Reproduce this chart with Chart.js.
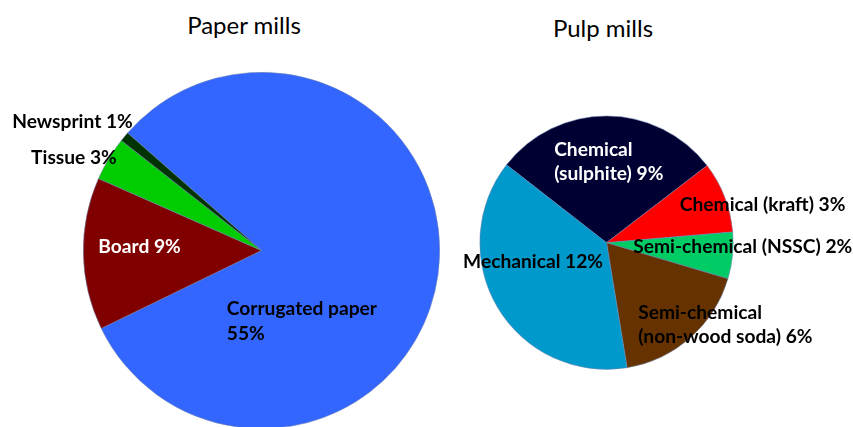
<!DOCTYPE html>
<html>
<head>
<meta charset="utf-8">
<script src="https://cdn.jsdelivr.net/npm/chart.js@4/dist/chart.umd.min.js"></script>
<style>
  html, body { margin: 0; padding: 0; background: #fff; overflow: hidden; }
  body { width: 853px; height: 427px; position: relative; }
  .box { position: absolute; }
  .title { position: absolute; font-family: Lato, "Open Sans", sans-serif; font-size: 24px; color: #000; transform: translateX(-50%); white-space: nowrap; }
</style>
</head>
<body>
<div class="title" style="left:244px; top:10px;">Paper mills</div>
<div class="title" style="left:603px; top:13px;">Pulp mills</div>
<div class="box" style="left:0; top:0; width:440px; height:440px;"><canvas id="paper"></canvas></div>
<div class="box" style="left:440px; top:0; width:413px; height:427px;"><canvas id="pulp"></canvas></div>
<script>
// share of total production, %
const paperLabels = ['Corrugated paper', 'Board', 'Tissue', 'Newsprint'];
const paperValues = [55.3, 9.4, 2.7, 0.6];
const paperColors = ['#3366FF', '#800000', '#00CC00', '#003300'];

const pulpLabels = ['Chemical (sulphite)', 'Chemical (kraft)', 'Semi-chemical (NSSC)', 'Semi-chemical (non-wood soda)', 'Mechanical'];
const pulpValues = [9.3, 2.9, 1.9, 5.7, 12.2];
const pulpColors = ['#000033', '#FF0000', '#00CC66', '#663300', '#0099CC'];

// label text per slice; dx/dy in units of pie radius from the pie centre
const paperText = [
  { lines: ['Corrugated paper', '55%'], dx: -0.195, dy: 0.329, color: '#000' },
  { lines: ['Board 9%'], dx: -0.916, dy: -0.021, color: '#fff' },
  { lines: ['Tissue 3%'], dx: -1.293, dy: -0.518, color: '#000' },
  { lines: ['Newsprint 1%'], dx: -1.399, dy: -0.722, color: '#000' },
];
const pulpText = [
  { lines: ['Chemical', '(sulphite) 9%'], dx: -0.413, dy: -0.735, color: '#fff' },
  { lines: ['Chemical (kraft) 3%'], dx: 0.579, dy: -0.297, color: '#000' },
  { lines: ['Semi-chemical (NSSC) 2%'], dx: 0.211, dy: 0.031, color: '#000' },
  { lines: ['Semi-chemical', '(non-wood soda) 6%'], dx: 0.250, dy: 0.551, color: '#000' },
  { lines: ['Mechanical 12%'], dx: -1.132, dy: 0.154, color: '#000' },
];

const sliceLabels = {
  id: 'sliceLabels',
  afterDraw(chart, args, opts) {
    const ctx = chart.ctx;
    const arc = chart.getDatasetMeta(0).data[0];
    const r = arc.outerRadius;
    ctx.save();
    ctx.font = 'bold 19.2px Lato, "Open Sans", sans-serif';
    ctx.textAlign = 'left';
    ctx.textBaseline = 'middle';
    opts.items.forEach(item => {
      ctx.fillStyle = item.color;
      item.lines.forEach((line, i) => {
        ctx.fillText(line, arc.x + item.dx * r, arc.y + item.dy * r + i * 24.5);
      });
    });
    ctx.restore();
  }
};

function makePie(id, labels, values, colors, rotation, padding, items) {
  return new Chart(document.getElementById(id), {
    type: 'pie',
    data: {
      labels: labels,
      datasets: [{
        data: values,
        backgroundColor: colors,
        borderColor: 'rgba(110,130,175,0.9)',
        borderWidth: 0.6
      }]
    },
    options: {
      responsive: true,
      maintainAspectRatio: false,
      animation: false,
      events: [],
      rotation: rotation,
      layout: { padding: padding },
      plugins: {
        legend: { display: false },
        tooltip: { enabled: false },
        sliceLabels: { items: items }
      }
    },
    plugins: [sliceLabels]
  });
}

makePie('paper', paperLabels, paperValues, paperColors, -48.7,
  { left: 83, top: 72, right: 0, bottom: 11 }, paperText);
makePie('pulp', pulpLabels, pulpValues, pulpColors, -52.1,
  { left: 39.5, top: 115.7, right: 119.5, bottom: 57.3 }, pulpText);
</script>
</body>
</html>
